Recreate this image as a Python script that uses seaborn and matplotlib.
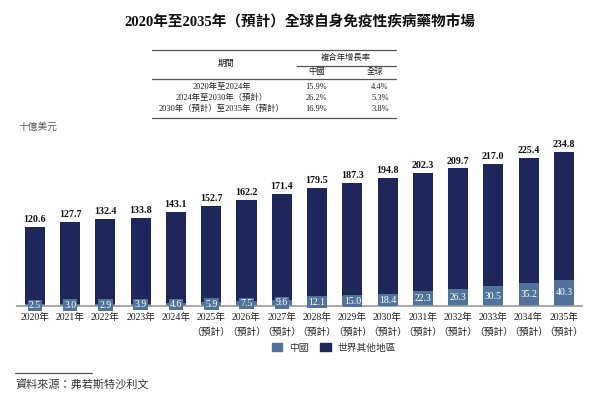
import matplotlib
matplotlib.use("Agg")
import matplotlib.pyplot as plt
from matplotlib.lines import Line2D
from matplotlib.patches import Patch
import pandas as pd
import seaborn as sns

# market size, billion USD
years = [2020, 2021, 2022, 2023, 2024, 2025, 2026, 2027,
         2028, 2029, 2030, 2031, 2032, 2033, 2034, 2035]
first_forecast = 2025
china = [2.5, 3.0, 2.9, 3.9, 4.6, 5.9, 7.5, 9.6,
         12.1, 15.0, 18.4, 22.3, 26.3, 30.5, 35.2, 40.3]
total = [120.6, 127.7, 132.4, 133.8, 143.1, 152.7, 162.2, 171.4,
         179.5, 187.3, 194.8, 202.3, 209.7, 217.0, 225.4, 234.8]

# CAGR table
periods = ["2020年至2024年", "2024年至2030年（預計）", "2030年（預計）至2035年（預計）"]
cagr_china = ["15.9%", "26.2%", "16.9%"]
cagr_global = ["4.4%", "5.3%", "3.8%"]

title = "2020年至2035年（預計）全球自身免疫性疾病藥物市場"
unit = "十億美元"
source = "資料來源：弗若斯特沙利文"

c_china = "#51739a"
c_rest = "#1f2659"
fam = ["Liberation Serif", "Noto Sans CJK TC", "DejaVu Sans"]

sns.set_style("white")
plt.rcParams["font.family"] = fam

labels = [f"{y}年" + ("\n（預計）" if y >= first_forecast else "") for y in years]
df = pd.DataFrame({"year": labels, "china": china, "total": total})

fig = plt.figure(figsize=(6.03, 3.97), dpi=100)
ax = fig.add_axes([0.028, 0.229, 0.937, 0.43])

sns.barplot(data=df, x="year", y="total", color=c_rest, width=0.57,
            saturation=1, linewidth=0, ax=ax)
sns.barplot(data=df, x="year", y="china", color=c_china, width=0.57,
            saturation=1, linewidth=0, ax=ax)

ax.bar_label(ax.containers[0], labels=[f"{v:.1f}" for v in total],
             padding=2, fontsize=7.2, fontweight="bold", color="#111111")
for i, v in enumerate(china):
    ax.text(i, v / 2, f"{v:.1f}", ha="center", va="center", color="white",
            fontsize=7, bbox=dict(boxstyle="square,pad=0.12", fc=c_china, ec="none"))

ax.set_xlim(-0.51, 15.51)
ax.set_ylim(0, 260)
ax.set_yticks([])
ax.set_xlabel("")
ax.set_ylabel("")
for s in ["left", "top", "right"]:
    ax.spines[s].set_visible(False)
ax.spines["bottom"].set_color("#9a9a9a")
ax.spines["bottom"].set_linewidth(1.2)
ax.tick_params(axis="x", length=0, pad=5, labelsize=7, colors="#222222")
for t in ax.get_xticklabels():
    t.set_linespacing(1.65)
    t.set_verticalalignment("top")


def fx(px):
    return px / 603


def fy(py):
    return 1 - py / 397


fig.text(fx(300), fy(22), title, ha="center", va="center",
         fontsize=10.5, fontweight="bold", color="#111111")

# table
for y0, x0, x1 in [(50, 152, 396), (66, 297, 396), (79, 152, 396), (118, 152, 396)]:
    fig.add_artist(Line2D([fx(x0), fx(x1)], [fy(y0), fy(y0)], color="#555555", lw=0.9))
tk = dict(fontsize=6, color="#222222", va="center")
fig.text(fx(226), fy(64), "期間", ha="center", **tk)
fig.text(fx(346), fy(58), "複合年增長率", ha="center", **tk)
fig.text(fx(317), fy(72), "中國", ha="center", **tk)
fig.text(fx(375), fy(72), "全球", ha="center", **tk)
for k, yy in enumerate([87, 98, 109]):
    fig.text(fx(222), fy(yy), periods[k], ha="center", **tk)
    fig.text(fx(316), fy(yy), cagr_china[k], ha="center", **tk)
    fig.text(fx(380), fy(yy), cagr_global[k], ha="center", **tk)

fig.text(fx(18), fy(127), unit, ha="left", va="center", fontsize=7, color="#555555")

handles = [Patch(color=c_china, label="中國"), Patch(color=c_rest, label="世界其他地區")]
fig.legend(handles=handles, loc="center", bbox_to_anchor=(fx(334), fy(348)), ncol=2,
           frameon=False, fontsize=7, handlelength=1.1, handleheight=0.9,
           handletextpad=0.7, columnspacing=1.2, labelcolor="#333333")

fig.add_artist(Line2D([fx(15), fx(92)], [fy(373), fy(373)], color="#555555", lw=0.9))
fig.text(fx(15), fy(384), source, ha="left", va="center", fontsize=8, color="#333333")

fig.savefig("out.png", dpi=100)
